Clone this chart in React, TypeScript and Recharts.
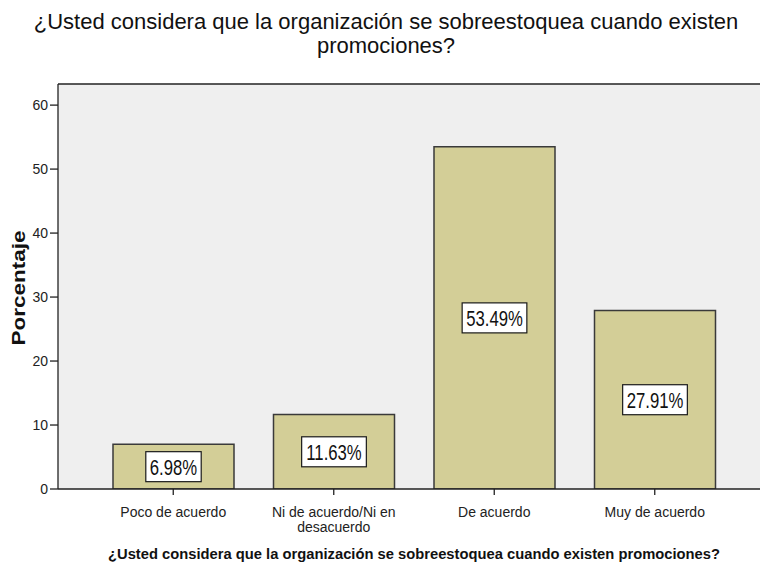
import React from 'react';
import { BarChart, Bar, XAxis, YAxis, CartesianGrid, LabelList, ReferenceLine, Label } from 'recharts';

const categories = ['Poco de acuerdo', 'Ni de acuerdo/Ni en\ndesacuerdo', 'De acuerdo', 'Muy de acuerdo'];
const percentages = [6.98, 11.63, 53.49, 27.91];
const yTicks = [0, 10, 20, 30, 40, 50, 60];
const titleLines = ['¿Usted considera que la organización se sobreestoquea cuando existen', 'promociones?'];
const xTitle = '¿Usted considera que la organización se sobreestoquea cuando existen promociones?';
const yTitle = 'Porcentaje';
const YMAX = 63.3;

const data = categories.map((c, i) => ({ name: c, value: percentages[i] }));

const FONT = '"Liberation Sans", Arial, sans-serif';

const charW = (s: string) => {
  let w = 0;
  for (const ch of s) {
    if (ch === '.') w += 0.278;
    else if (ch === '%') w += 0.889;
    else w += 0.556;
  }
  return w;
};

const BoxLabel = (props: any) => {
  const { x, y, width, height, value } = props;
  const cx = x + width / 2;
  const cy = y + height / 2;
  const txt = Number(value).toFixed(2) + '%';
  const fs = 22;
  const sx = 0.76;
  const tw = charW(txt) * fs * sx;
  const w = tw + 8;
  return (
    <g>
      <rect x={cx - w / 2} y={cy - 15} width={w} height={30} fill="#ffffff" stroke="#1a1a1a" strokeWidth={1.2} />
      <text
        transform={`translate(${cx},${cy + 8}) scale(${sx},1)`}
        x={0}
        y={0}
        textAnchor="middle"
        fontSize={fs}
        fontFamily={FONT}
        fill="#111"
      >
        {txt}
      </text>
    </g>
  );
};

const XTick = (props: any) => {
  const { x, y, payload } = props;
  const lines = String(payload.value).split('\n');
  return (
    <text x={x} y={y} textAnchor="middle" fontSize={14} fontFamily={FONT} fill="#222">
      {lines.map((l, i) => (
        <tspan key={i} x={x} dy={i === 0 ? 22 : 15}>
          {l}
        </tspan>
      ))}
    </text>
  );
};

const YTitle = () => {
  const cx = 19;
  const cy = 288;
  return (
    <text
      x={cx}
      y={cy}
      transform={`rotate(-90, ${cx}, ${cy})`}
      textAnchor="middle"
      dominantBaseline="central"
      fontSize={18}
      fontWeight="bold"
      fontFamily={FONT}
      fill="#111"
      textLength={115}
      lengthAdjust="spacingAndGlyphs"
    >
      {yTitle}
    </text>
  );
};

const XTitle = () => {
  return (
    <text
      x={414}
      y={559}
      textAnchor="middle"
      fontSize={15.5}
      fontWeight="bold"
      fontFamily={FONT}
      fill="#111"
      textLength={612}
      lengthAdjust="spacingAndGlyphs"
    >
      {xTitle}
    </text>
  );
};

export default function App() {
  return (
    <div style={{ position: 'absolute', top: 0, left: 0, width: 760, height: 562, background: '#fff', fontFamily: FONT }}>
      <div
        style={{
          position: 'absolute',
          top: 10,
          left: 6,
          width: 760,
          textAlign: 'center',
          fontSize: 22,
          lineHeight: '24px',
          color: '#111',
        }}
      >
        {titleLines[0]}
        <br />
        {titleLines[1]}
      </div>
      <BarChart width={760} height={562} data={data} margin={{ top: 84, right: 0, bottom: 0, left: 0 }}>
        <CartesianGrid horizontal={false} vertical={false} fill="#efefef" />
        <XAxis
          dataKey="name"
          interval={0}
          padding={{ left: 35, right: 25 }}
          axisLine={{ stroke: '#222', strokeWidth: 1.3 }}
          tickLine={{ stroke: '#222', strokeWidth: 1.3 }}
          tickSize={6}
          tickMargin={0}
          tick={<XTick />}
          height={73}
        >
          <Label content={<XTitle />} />
        </XAxis>
        <YAxis
          width={58}
          domain={[0, YMAX]}
          ticks={yTicks}
          allowDataOverflow
          axisLine={{ stroke: '#222', strokeWidth: 1.3 }}
          tickLine={{ stroke: '#222', strokeWidth: 1.3 }}
          tickSize={8}
          tickMargin={2}
          tick={{ fontSize: 14, fill: '#222', fontFamily: FONT }}
        >
          <Label content={<YTitle />} />
        </YAxis>
        <ReferenceLine y={YMAX} stroke="#222" strokeWidth={1.3} />
        <Bar dataKey="value" fill="#d3ce97" stroke="#3a3a3a" strokeWidth={1.5} barSize={121} isAnimationActive={false}>
          <LabelList dataKey="value" content={<BoxLabel />} />
        </Bar>
      </BarChart>
    </div>
  );
}
